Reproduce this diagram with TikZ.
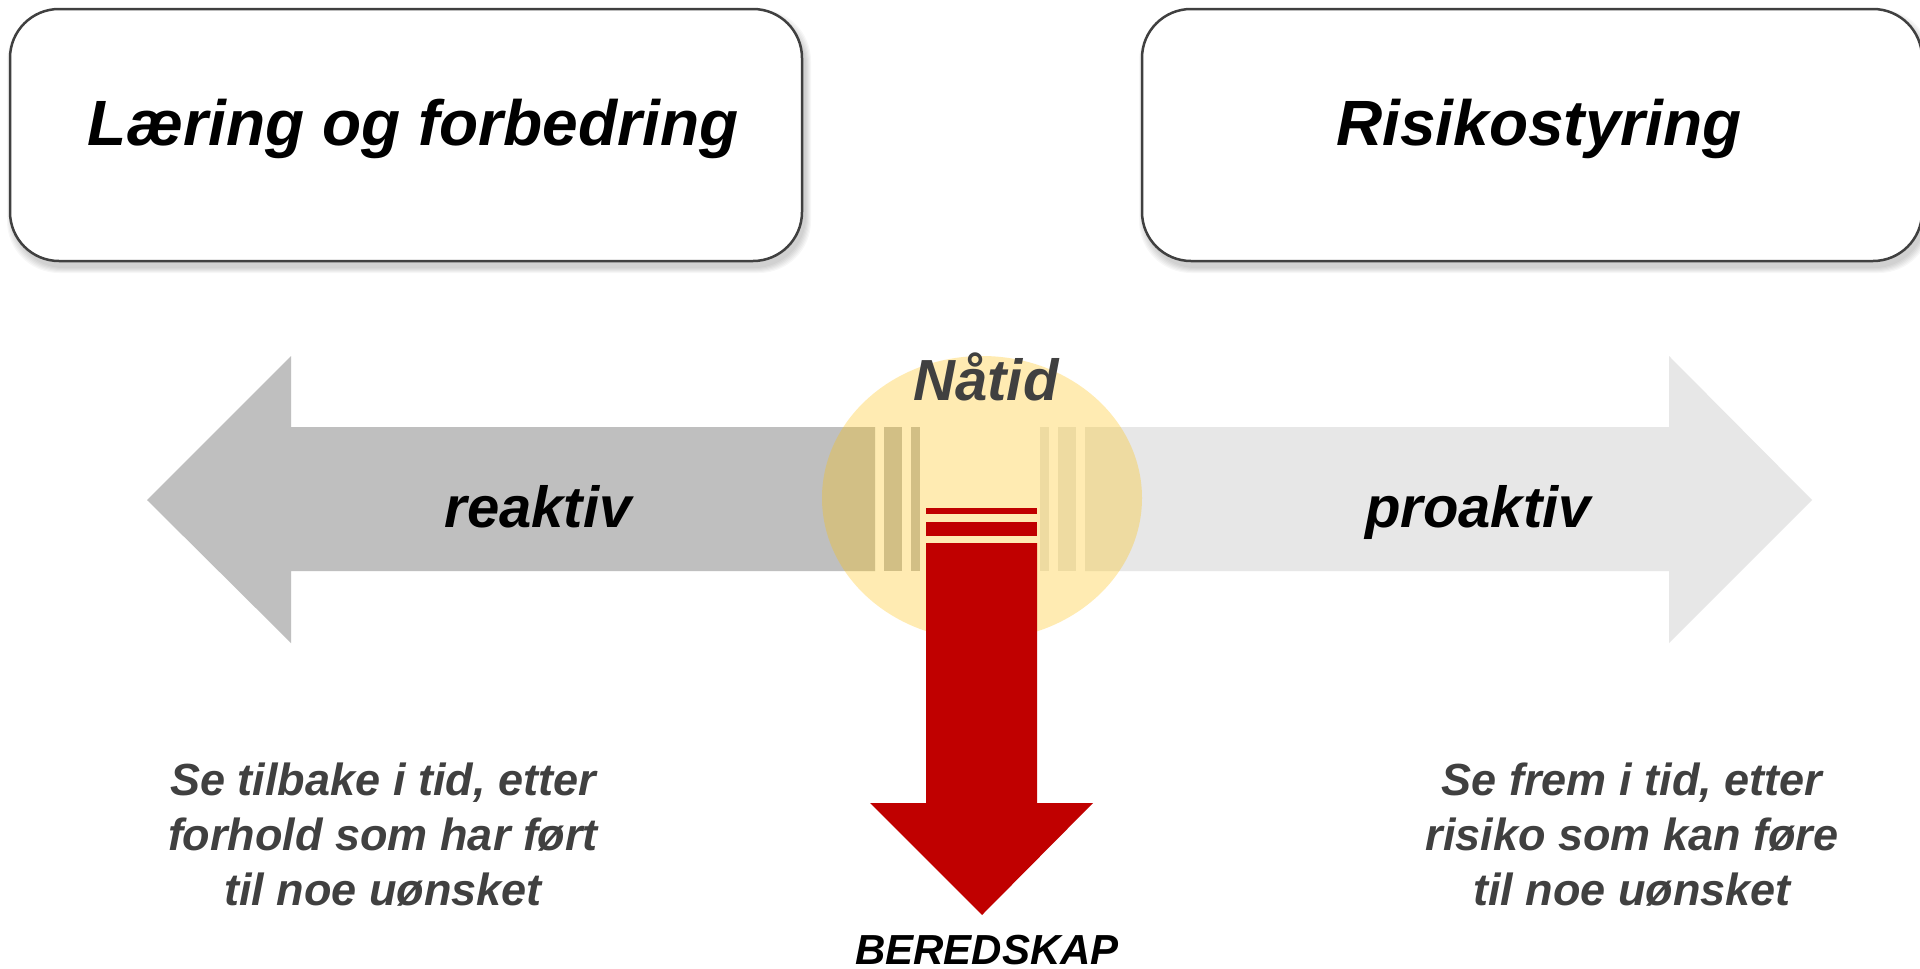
\documentclass[tikz,border=0pt]{standalone}
\usepackage{fontspec}
\setmainfont{Liberation Sans}
\begin{document}
\begin{tikzpicture}[x=1pt,y=-1pt]
\definecolor{boxline}{HTML}{404040}
\definecolor{txtdark}{HTML}{404040}
\definecolor{graydark}{HTML}{BFBFBF}
\definecolor{graylight}{HTML}{E7E7E7}
\definecolor{sunfill}{HTML}{FFC000}
\definecolor{redarrow}{HTML}{C00000}
\tikzset{
  titlebox/.style={draw=boxline, line width=2.5pt, rounded corners=49pt, fill=white},
  titletext/.style={font=\fontsize{64}{64}\selectfont\bfseries\itshape, anchor=base, inner sep=0pt, text=black},
  midtext/.style={font=\fontsize{58}{58}\selectfont\bfseries\itshape, anchor=base, inner sep=0pt},
  bottext/.style={font=\fontsize{45}{45}\selectfont\bfseries\itshape, anchor=base, inner sep=0pt, text=txtdark},
  labtext/.style={font=\fontsize{42}{42}\selectfont\bfseries\itshape, anchor=base, inner sep=0pt, text=black},
  shadowlayer/.style={fill=black, opacity=0.03, rounded corners=52pt}
}
\useasboundingbox (0,0) rectangle (1920,969);
\fill[white] (0,0) rectangle (1920,969);

% soft shadows of the title boxes
\foreach \s in {1,...,6}{
  \fill[shadowlayer] (10+3-\s,9+6-\s) rectangle (802+3+\s,261+6+\s);
  \fill[shadowlayer] (1142+3-\s,9+6-\s) rectangle (1922+3+\s,261+6+\s);
}
% title boxes
\draw[titlebox] (10,9) rectangle (802,261);
\draw[titlebox] (1142,9) rectangle (1922,261);
\node[titletext] (learn) at (413,145) {Læring og forbedring};
\node[titletext] (risk) at (1539,145) {Risikostyring};

% grey double arrow: reactive (left) part
\fill[graydark] (147,500) -- (291,356) -- (291,427) -- (875,427) -- (875,571) -- (291,571) -- (291,643) -- cycle;
\fill[graydark] (884,427) rectangle (902,571);
\fill[graydark] (911,427) rectangle (920,571);
% proactive (right) part
\fill[graylight] (1040,427) rectangle (1049,571);
\fill[graylight] (1058,427) rectangle (1076,571);
\fill[graylight] (1085,427) -- (1669,427) -- (1669,356) -- (1812,500) -- (1669,643) -- (1669,571) -- (1085,571) -- cycle;

% present (yellow disc)
\fill[sunfill, opacity=0.3] (982,498) ellipse [x radius=160, y radius=142];

% red arrow: preparedness
\fill[redarrow] (926,508) rectangle (1037,514);
\fill[redarrow] (926,522) rectangle (1037,536);
\fill[redarrow] (926,543) -- (1037,543) -- (1037,803) -- (1093,803) -- (982,915) -- (870,803) -- (926,803) -- cycle;

% labels
\node[midtext, text=txtdark] (now) at (986,400) {Nåtid};
\node[midtext, text=black] (reac) at (538,527) {reaktiv};
\node[midtext, text=black] (proac) at (1478,527) {proaktiv};
\node[labtext] (ready) at (987,964) {BEREDSKAP};

\node[bottext] (l1) at (383,795) {Se tilbake i tid, etter};
\node[bottext] (l2) at (383,850) {forhold som har ført};
\node[bottext] (l3) at (383,905) {til noe uønsket};
\node[bottext] (r1) at (1632,795) {Se frem i tid, etter};
\node[bottext] (r2) at (1632,850) {risiko som kan føre};
\node[bottext] (r3) at (1632,905) {til noe uønsket};
\end{tikzpicture}
\end{document}
